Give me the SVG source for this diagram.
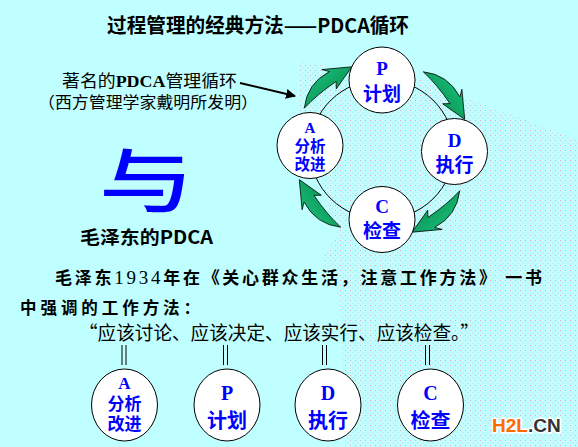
<svg xmlns="http://www.w3.org/2000/svg" width="578" height="447" viewBox="0 0 578 447">
<defs>
<style>
.cjk{font-family:"Noto Sans CJK SC","Noto Sans",sans-serif}
.ser{font-family:"Liberation Serif","Noto Sans CJK SC",serif}
.node{fill:#ffffff;stroke:#000000;stroke-width:1}
.lbl{fill:#0000ff;font-weight:bold;text-anchor:middle}
.ga{fill:url(#gg);stroke:#000000;stroke-width:0.8}
.bar{stroke:#000000;stroke-width:1}
</style>
<linearGradient id="gg" x1="0" y1="0" x2="1" y2="1">
<stop offset="0" stop-color="#20c888"/>
<stop offset="1" stop-color="#00803c"/>
</linearGradient>
<pattern id="dots" width="5" height="5" patternUnits="userSpaceOnUse">
<rect x="0" y="0" width="1" height="1" fill="#f0a0b4"/>
<rect x="2.5" y="2.5" width="1" height="1" fill="#d8c0d0"/>
</pattern>
<marker id="ah" viewBox="0 0 10 10" refX="9" refY="5" markerWidth="5" markerHeight="5" orient="auto">
<path d="M0,0 L10,5 L0,10 Z" fill="#000000"/>
</marker>
<path id="garrow" d="M -77.7,-41.3 Q -75,-66 -52.6,-77.9 L -60.2,-79.9 L -30.1,-82.7 L -45.7,-60.7 L -45.9,-68 Q -65,-55 -77.7,-41.3 Z"/>
</defs>
<rect x="0" y="0" width="578" height="447" fill="#c0ffff"/>
<polygon points="300,62 415,78 578,140 578,447 346,447 340,300 322,258 338,235 300,110" fill="url(#dots)" opacity="0.9"/>

<text class="cjk" x="107" y="33" font-size="20" font-weight="bold" textLength="302" lengthAdjust="spacingAndGlyphs" fill="#000">过程管理的经典方法——PDCA循环</text>

<g id="annotation">
<text class="cjk" x="62" y="87" font-size="16.5" textLength="175" lengthAdjust="spacingAndGlyphs" fill="#000">著名的<tspan class="ser" font-weight="bold">PDCA</tspan>管理循环</text>
<text class="cjk" x="38" y="108" font-size="16" textLength="220" lengthAdjust="spacingAndGlyphs" fill="#000">（西方管理学家戴明所发明）</text>
</g>

<g id="connectors">
<line x1="240" y1="83" x2="295" y2="96" stroke="#000" stroke-width="2" marker-end="url(#ah)"/>
<ellipse cx="382" cy="149.5" rx="72" ry="70" fill="none" stroke="#000" stroke-width="1"/>
<g transform="translate(382,149.5)">
<use href="#garrow" class="ga"/>
<use href="#garrow" class="ga" transform="rotate(90)"/>
<use href="#garrow" class="ga" transform="rotate(180)"/>
<use href="#garrow" class="ga" transform="rotate(270)"/>
</g>
<g id="bars">
<line class="bar" x1="122" y1="345" x2="122" y2="365"/><line class="bar" x1="126" y1="345" x2="126" y2="365"/>
<line class="bar" x1="223.5" y1="345" x2="223.5" y2="365"/><line class="bar" x1="227.5" y1="345" x2="227.5" y2="365"/>
<line class="bar" x1="322.5" y1="345" x2="322.5" y2="365"/><line class="bar" x1="326.5" y1="345" x2="326.5" y2="365"/>
<line class="bar" x1="425.5" y1="345" x2="425.5" y2="365"/><line class="bar" x1="429.5" y1="345" x2="429.5" y2="365"/>
</g>
</g>

<g id="node-P">
<circle class="node" cx="382" cy="80" r="33"/>
<text class="cjk lbl" font-size="19"><tspan class="ser" x="382" y="75">P</tspan><tspan x="382" y="101">计划</tspan></text>
</g>
<g id="node-D">
<circle class="node" cx="454.5" cy="151.5" r="33"/>
<text class="cjk lbl" font-size="19"><tspan class="ser" x="454.5" y="147">D</tspan><tspan x="454.5" y="172">执行</tspan></text>
</g>
<g id="node-C">
<circle class="node" cx="382" cy="219.5" r="33"/>
<text class="cjk lbl" font-size="19"><tspan class="ser" x="382" y="213">C</tspan><tspan x="382" y="238">检查</tspan></text>
</g>
<g id="node-A">
<circle class="node" cx="310" cy="145.5" r="33"/>
<text class="cjk lbl" font-size="15.5"><tspan class="ser" x="310" y="133" font-size="15">A</tspan><tspan x="310" y="151.5">分析</tspan><tspan x="310" y="169.5">改进</tspan></text>
</g>

<g id="yu">
<text class="cjk" transform="translate(99,207) scale(1.35,1)" font-size="70" font-weight="500" fill="#0000ff">与</text>
</g>
<text class="cjk" x="80" y="244" font-size="18" font-weight="bold" textLength="133" lengthAdjust="spacingAndGlyphs" fill="#000">毛泽东的PDCA</text>

<g id="paragraph">
<text class="cjk" x="55" y="284" font-size="17" font-weight="bold" textLength="487" lengthAdjust="spacing" fill="#000">毛泽东<tspan class="ser" font-weight="normal" font-size="19">1934</tspan>年在《关心群众生活，注意工作方法》 一书</text>
<text class="cjk" x="20" y="314" font-size="16.5" font-weight="bold" textLength="180" lengthAdjust="spacing" fill="#000">中强调的工作方法：</text>
<text class="cjk" x="79" y="340" font-size="19" textLength="400" lengthAdjust="spacingAndGlyphs" fill="#000">“应该讨论、应该决定、应该实行、应该检查。”</text>
</g>

<g id="node-A2">
<ellipse class="node" cx="124.5" cy="405" rx="33" ry="36"/>
<text class="cjk lbl" font-size="17"><tspan class="ser" x="124.5" y="389">A</tspan><tspan x="124.5" y="410">分析</tspan><tspan x="124.5" y="430">改进</tspan></text>
</g>
<g id="node-P2">
<ellipse class="node" cx="227" cy="405" rx="33" ry="36"/>
<text class="cjk lbl" font-size="20"><tspan class="ser" x="227" y="400">P</tspan><tspan x="227" y="428">计划</tspan></text>
</g>
<g id="node-D2">
<ellipse class="node" cx="328" cy="405" rx="33" ry="36"/>
<text class="cjk lbl" font-size="20"><tspan class="ser" x="328" y="400">D</tspan><tspan x="328" y="428">执行</tspan></text>
</g>
<g id="node-C2">
<ellipse class="node" cx="430.5" cy="405" rx="33" ry="36"/>
<text class="cjk lbl" font-size="20"><tspan class="ser" x="430.5" y="400">C</tspan><tspan x="430.5" y="428">检查</tspan></text>
</g>

<g id="watermark">
<text x="492" y="432" font-family="'Liberation Sans',Arial,sans-serif" font-weight="bold" font-size="19" stroke="#ffffff" stroke-width="3" stroke-linejoin="round" paint-order="stroke"><tspan fill="#ff6a00">H2L</tspan><tspan fill="#333333">.CN</tspan></text>
</g>
</svg>
